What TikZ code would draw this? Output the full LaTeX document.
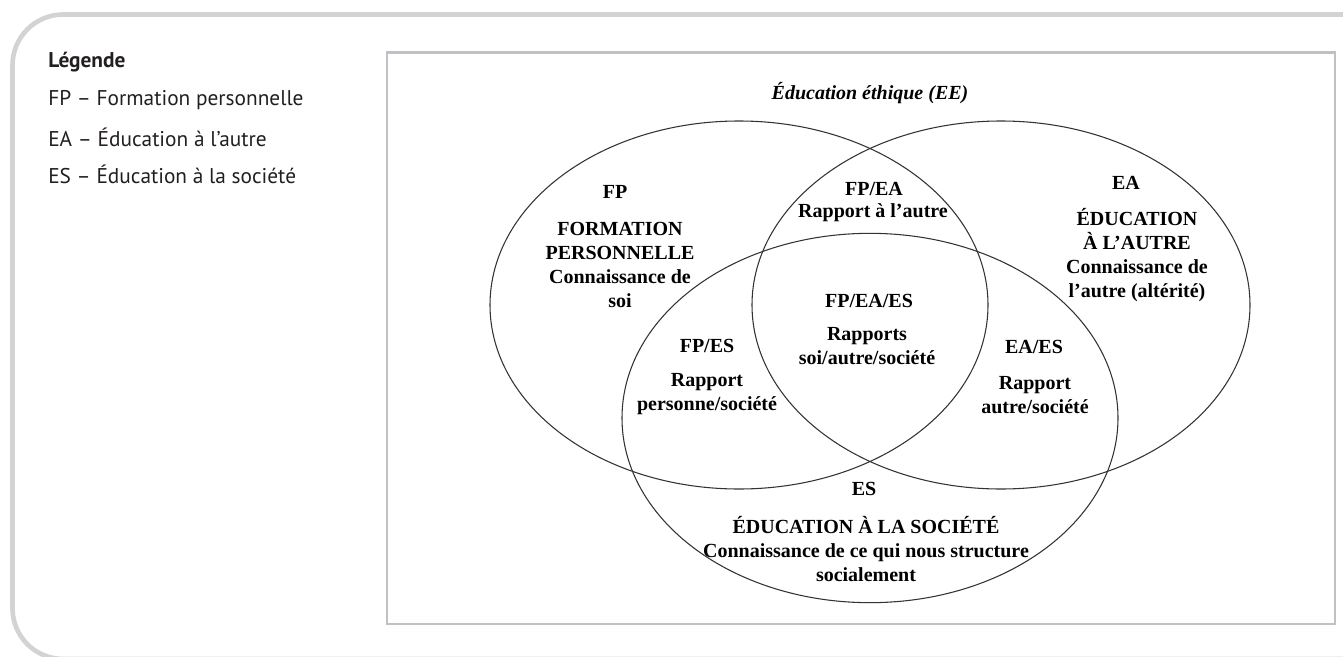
\documentclass[tikz,border=0pt]{standalone}
\usepackage{fontspec}
\setmainfont{Liberation Serif}
\newfontfamily\legendfont{PT Sans}
\usepackage{tikz}
\definecolor{framegray}{RGB}{210,211,213}
\definecolor{boxgray}{RGB}{192,193,196}
\definecolor{legendink}{RGB}{35,31,32}
\tikzset{%
    outerframe/.style={line width=3.5pt,draw=framegray,rounded corners=38pt},
    boxline/.style={line width=1.6pt,draw=boxgray},
    ring/.style={line width=0.8pt,draw=black!80},
    lbl/.style={inner sep=0pt,align=center,font=\bfseries\fontsize{15pt}{18pt}\selectfont},
    titletxt/.style={inner sep=0pt,font=\bfseries\itshape\fontsize{15pt}{18pt}\selectfont},
    legendtxt/.style={inner sep=0pt,anchor=west,text=legendink,font=\legendfont\fontsize{16pt}{19pt}\selectfont},
    legendhead/.style={legendtxt,font=\legendfont\bfseries\fontsize{16pt}{19pt}\selectfont}
}
\begin{document}
\begin{tikzpicture}[x=0.75pt,y=-0.75pt]
        \useasboundingbox (0,0) rectangle (1343,657);
        \draw[outerframe] (1370,14.5) -- (12.5,14.5) -- (12.5,659) -- (1370,659);
        \draw[boxline] (387,52.5) rectangle (1335,624);

        \node[legendhead] (leg) at (48,62){Légende};
        \node[legendtxt] (legfp) at (48,100){FP – Formation personnelle};
        \node[legendtxt] (legea) at (48,137){EA – Éducation à l’autre};
        \node[legendtxt] (leges) at (48,174){ES – Éducation à la société};

        \draw[ring] (739,305) ellipse [x radius=186.75pt, y radius=138pt];
        \draw[ring] (1001,305) ellipse [x radius=186.75pt, y radius=138pt];
        \draw[ring] (870,418) ellipse [x radius=186pt, y radius=138.5pt];

        \node[titletxt] (ee) at (870,93){Éducation éthique (EE)};

        \node[lbl] (fp) at (615,192){FP};
        \node[lbl] (fptxt) at (620,265){FORMATION\\PERSONNELLE\\Connaissance de\\soi};
        \node[lbl] (fpea) at (874,189){FP/EA};
        \node[lbl] (fpeatxt) at (873,213){Rapport à l’autre};
        \node[lbl] (ea) at (1126,183){EA};
        \node[lbl] (eatxt) at (1137,255){ÉDUCATION\\À L’AUTRE\\Connaissance de\\l’autre (altérité)};

        \node[lbl] (fpeaes) at (869,301){FP/EA/ES};
        \node[lbl] (fpeaestxt) at (867,346){Rapports\\soi/autre/société};
        \node[lbl] (fpes) at (707,346){FP/ES};
        \node[lbl] (fpestxt) at (707,394){Rapport\\personne/société};
        \node[lbl] (eaes) at (1034,347){EA/ES};
        \node[lbl] (eaestxt) at (1035,395){Rapport\\autre/société};

        \node[lbl] (es) at (864,489){ES};
        \node[lbl] (estxt) at (866,549){ÉDUCATION À LA SOCIÉTÉ\\Connaissance de ce qui nous structure\\socialement};
    \end{tikzpicture}
\end{document}
